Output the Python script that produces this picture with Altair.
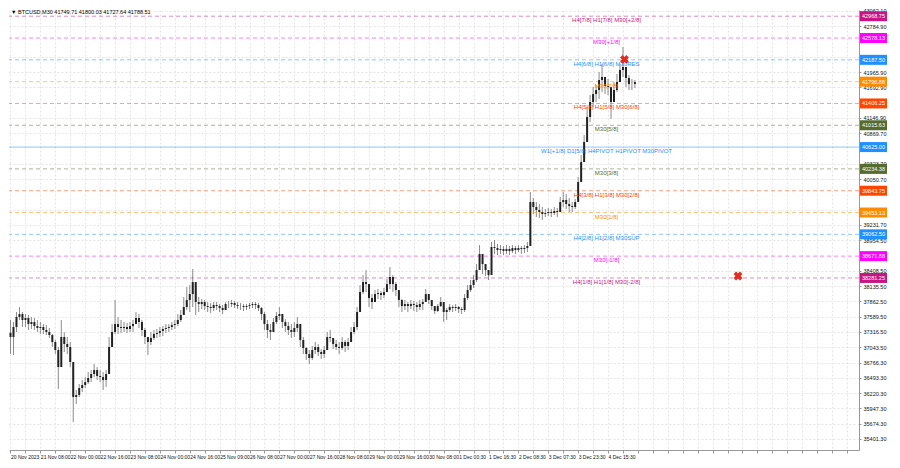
import json
import altair as alt
import pandas as pd

# ---------------- data ----------------
highs = [37528, 37492, 37671, 37761, 37671, 37635, 37618, 37582, 37564, 37528,
         37492, 37456, 37438, 37385, 37277, 37170, 37045, 37528, 37313, 37223,
         37134, 36686, 36274, 36381, 36453, 36507, 36597, 36632, 36740, 36686,
         36632, 36597, 36632, 37223, 37456, 37886, 37582, 37528, 37492, 37474,
         37492, 37528, 37671, 37635, 37528, 37385, 37223, 37313, 37349, 37367,
         37403, 37420, 37456, 37456, 37492, 37528, 37635, 37707, 37940, 38119,
         38154, 38441, 38154, 37940, 37904, 37886, 37850, 37832, 37850, 37850,
         37814, 37796, 37850, 37868, 37886, 37868, 37850, 37832, 37814, 37814,
         37832, 37850, 37850, 37832, 37761, 37671, 37528, 37456, 37564, 37671,
         37761, 37635, 37546, 37492, 37456, 37492, 37582, 37385, 37223, 37045,
         36991, 37063, 37134, 37098, 37009, 37063, 37313, 37349, 37206, 37170,
         37134, 37223, 37170, 37206, 37403, 37492, 37761, 38154, 38333, 38423,
         38119, 37993, 38065, 38083, 38047, 38101, 38262, 38477, 38333, 38208,
         38029, 37904, 37886, 37850, 37886, 37868, 37850, 37886, 37904, 38083,
         37993, 37886, 37761, 37814, 37940, 37796, 37743, 37814, 37796, 37814,
         37778, 37761, 37993, 38154, 38244, 38333, 38530, 38871, 38656, 38530,
         38423, 38925, 38960, 38889, 38871, 38853, 38871, 38853, 38871, 38853,
         38871, 38853, 38871, 38925, 39820, 39713, 39641, 39605, 39552, 39516,
         39534, 39516, 39552, 39534, 39731, 39820, 39784, 39713, 39641, 39695,
         40089, 40484, 40841, 41343, 41557, 41701, 41737, 41969, 42112, 41880,
         41844, 41701, 41790, 41934, 42112, 42417, 42005, 41916, 41844, 41826]
lows = [36919, 36901, 37313, 37528, 37403, 37403, 37349, 37367, 37349, 37313,
        37277, 37277, 37259, 37206, 37045, 36919, 36292, 36955, 36955, 36919,
        36686, 35701, 36023, 36149, 36238, 36310, 36381, 36417, 36507, 36453,
        36417, 36274, 36328, 36561, 37045, 37277, 37277, 37295, 37313, 37295,
        37313, 37313, 37456, 37385, 37241, 37098, 36901, 37080, 37170, 37206,
        37223, 37241, 37295, 37313, 37349, 37367, 37420, 37492, 37635, 37707,
        37671, 37761, 37618, 37671, 37725, 37707, 37671, 37653, 37689, 37707,
        37671, 37635, 37707, 37743, 37761, 37743, 37725, 37707, 37689, 37707,
        37725, 37743, 37725, 37689, 37528, 37349, 37206, 37170, 37313, 37456,
        37528, 37385, 37313, 37259, 37206, 37223, 37313, 37045, 36919, 36812,
        36740, 36812, 36919, 36883, 36830, 36847, 37098, 37134, 37009, 36991,
        36919, 36991, 36955, 36991, 37134, 37277, 37349, 37761, 37993, 38029,
        37761, 37725, 37850, 37904, 37886, 37922, 38029, 38083, 38029, 37957,
        37761, 37671, 37707, 37671, 37725, 37689, 37671, 37707, 37707, 37886,
        37814, 37707, 37635, 37671, 37761, 37492, 37528, 37671, 37671, 37689,
        37653, 37635, 37671, 37886, 38029, 38101, 38208, 38512, 38351, 38315,
        38244, 38620, 38710, 38692, 38710, 38692, 38710, 38692, 38728, 38710,
        38746, 38710, 38728, 38746, 38871, 39426, 39372, 39355, 39319, 39372,
        39391, 39372, 39408, 39372, 39462, 39552, 39516, 39462, 39462, 39516,
        39677, 39999, 40447, 40716, 41074, 41343, 41432, 41486, 41611, 41575,
        41557, 41127, 41432, 41611, 41790, 41880, 41701, 41647, 41647, 41682]
closes = [37223, 37403, 37582, 37635, 37528, 37564, 37456, 37492, 37420, 37385,
          37403, 37349, 37313, 37259, 37134, 36991, 36686, 37223, 37098, 37045,
          36776, 36149, 36185, 36310, 36364, 36417, 36489, 36561, 36632, 36525,
          36507, 36453, 36561, 37045, 37313, 37456, 37403, 37385, 37403, 37367,
          37420, 37456, 37564, 37492, 37349, 37223, 37134, 37206, 37277, 37295,
          37331, 37367, 37385, 37403, 37438, 37456, 37528, 37618, 37761, 37886,
          37993, 38208, 37850, 37814, 37850, 37778, 37761, 37743, 37796, 37778,
          37743, 37707, 37814, 37814, 37832, 37796, 37778, 37778, 37761, 37778,
          37796, 37814, 37796, 37743, 37635, 37456, 37349, 37313, 37492, 37600,
          37635, 37492, 37420, 37349, 37313, 37385, 37456, 37170, 37027, 36919,
          36847, 36991, 37045, 36955, 36919, 36991, 37223, 37206, 37098, 37045,
          37027, 37134, 37063, 37134, 37313, 37403, 37671, 38029, 38208, 38172,
          37922, 37850, 37993, 38011, 37975, 38029, 38172, 38298, 38172, 38065,
          37886, 37778, 37814, 37778, 37814, 37796, 37761, 37814, 37850, 37993,
          37886, 37778, 37689, 37778, 37850, 37671, 37707, 37761, 37743, 37761,
          37725, 37707, 37922, 38065, 38154, 38244, 38423, 38710, 38530, 38423,
          38333, 38835, 38817, 38781, 38799, 38763, 38799, 38763, 38817, 38781,
          38817, 38799, 38817, 38853, 39641, 39552, 39498, 39462, 39426, 39444,
          39462, 39444, 39480, 39462, 39641, 39677, 39605, 39569, 39552, 39641,
          39999, 40357, 40716, 41164, 41432, 41575, 41647, 41826, 41880, 41719,
          41701, 41432, 41647, 41790, 42005, 42059, 41862, 41754, 41754, 41788.51]
first_open = 37300

header_symbol = "BTCUSD,M30"
header_ohlc = [41749.71, 41800.03, 41727.64, 41788.51]

time_labels = ["20 Nov 2023", "21 Nov 08:00", "22 Nov 00:00", "22 Nov 16:00",
               "23 Nov 08:00", "24 Nov 00:00", "24 Nov 16:00", "25 Nov 09:00",
               "26 Nov 08:00", "27 Nov 00:00", "27 Nov 16:00", "28 Nov 08:00",
               "29 Nov 00:00", "29 Nov 16:00", "30 Nov 08:00", "1 Dec 00:30",
               "1 Dec 16:30", "2 Dec 08:30", "3 Dec 07:30", "3 Dec 23:30",
               "4 Dec 15:30"]

# price-scale labels that are not hidden behind the level tags
price_ticks = [43062.10, 42784.90, 42238.90, 41965.90, 41692.90,
               41146.90, 40869.70, 40323.70, 40050.70,
               39504.70, 39231.70, 38954.50, 38408.50,
               38135.50, 37862.50, 37589.50, 37316.50, 37043.50, 36766.30,
               36493.30, 36220.30, 35947.30, 35674.30, 35401.30]

level_prices = [42968.75, 42578.13, 42187.50, 41796.88, 41406.25, 41015.63,
                40625.00, 40234.38, 39843.75, 39453.13, 39062.50, 38671.88,
                38281.25]
level_texts = ["H4[7/8] H1[7/8] M30[+2/8]", "M30[+1/8]",
               "H4[6/8] H1[6/8] M30RES", "M30[7/8]",
               "H4[5/8] H1[5/8] M30[6/8]", "M30[5/8]",
               "W1[+1/8] D1[5/8] H4PIVOT H1PIVOT M30PIVOT", "M30[3/8]",
               "H4[3/8] H1[3/8] M30[2/8]", "M30[1/8]",
               "H4[2/8] H1[2/8] M30SUP", "M30[-1/8]",
               "H4[1/8] H1[1/8] M30[-2/8]"]
level_colors = ["#C71585", "#FF00FF", "#1E90FF", "#FF8C00", "#FF4500",
                "#556B2F", "#1E90FF", "#556B2F", "#FF4500", "#FF8C00",
                "#1E90FF", "#FF00FF", "#C71585"]
level_solid = [False, False, False, False, False, False, True, False, False,
               False, False, False, False]
label_slot = 199.5

marker_slots = [205.5, 243.5]
marker_prices = [42195, 38316]

# ---------------- chart ----------------
W, H = 850, 440
FONT = "Liberation Sans"

n = len(closes)
bars = pd.DataFrame({
    "i": list(range(n)),
    "high": highs,
    "low": lows,
    "close": closes,
    "open": [first_open] + closes[:-1],
})
levels = pd.DataFrame({
    "price": level_prices,
    "label": level_texts,
    "color": level_colors,
    "solid": level_solid,
})
levels["plabel"] = [f"{p:.2f}" for p in level_prices]
markers = pd.DataFrame({"i": marker_slots, "price": marker_prices})

xscale = alt.Scale(domain=[-0.5, 284], nice=False, zero=False)
yscale = alt.Scale(domain=[35200, 43080], nice=False, zero=False)

label_arr = json.dumps(time_labels).replace('"', "'")
x_axis = alt.Axis(
    values=list(range(0, 285, 5)),
    labelExpr=f"datum.value % 10 == 0 && datum.value <= 200 ? {label_arr}[datum.value / 10] : ''",
    title=None, grid=True, gridColor="#e4e4e4", gridDash=[2, 2],
    labelFontSize=5, labelFont=FONT, labelColor="#111", labelAlign="left",
    labelPadding=1, tickSize=3, tickColor="#999", domainColor="#999",
    labelOverlap=False, labelFlush=False,
)
y_axis = alt.Axis(
    orient="right", values=price_ticks, format=".2f", title=None,
    grid=True, gridColor="#e4e4e4", gridDash=[2, 2],
    labelFontSize=5.5, labelFont=FONT, labelColor="#111", labelAlign="left",
    labelPadding=2, tickSize=2, tickColor="#999", domainColor="#999",
    labelOverlap=False, labelFlush=False,
)


def X(field):
    return alt.X(field, scale=xscale, axis=x_axis)


def Y(field):
    return alt.Y(field, scale=yscale, axis=y_axis)


base_bars = alt.Chart(bars)

wicks = base_bars.mark_rule(color="#8a8a8a", strokeWidth=1).encode(
    x=X("i:Q"), y=Y("low:Q"), y2="high:Q",
)
bodies = base_bars.mark_rule(color="#222222", strokeWidth=2).encode(
    x=X("i:Q"), y=Y("open:Q"), y2="close:Q",
)

lev = alt.Chart(levels)
dashed_lines = lev.transform_filter("!datum.solid").mark_rule(
    strokeWidth=1, strokeDash=[4, 3], opacity=0.5
).encode(
    y=Y("price:Q"),
    color=alt.Color("color:N", scale=None),
)
solid_lines = lev.transform_filter("datum.solid").mark_rule(
    strokeWidth=1, opacity=0.5
).encode(
    y=Y("price:Q"),
    color=alt.Color("color:N", scale=None),
)
level_text = lev.mark_text(
    align="center", baseline="top", dy=1, fontSize=6, font=FONT
).encode(
    x=alt.X(datum=label_slot, scale=xscale, axis=x_axis),
    y=Y("price:Q"),
    text="label:N",
    color=alt.Color("color:N", scale=None),
)
boxes = lev.mark_point(
    shape="M-1,-0.37H1V0.37H-1Z", filled=True, size=729, opacity=1, strokeWidth=0
).encode(
    x=alt.value(W + 14.5),
    y=Y("price:Q"),
    color=alt.Color("color:N", scale=None),
)
box_text = lev.mark_text(
    align="left", baseline="middle", fontSize=5.5, font=FONT, color="white"
).encode(
    x=alt.value(W + 3),
    y=Y("price:Q"),
    text="plabel:N",
)

xmarks = alt.Chart(markers).mark_point(
    shape="cross", angle=45, filled=True, color="#E52B20", size=80, opacity=1
).encode(
    x=X("i:Q"),
    y=Y("price:Q"),
)

header_text = "\u25BC  " + header_symbol + "  " + " ".join(f"{v:.2f}" for v in header_ohlc)
header = alt.Chart(pd.DataFrame({"t": [header_text]})).mark_text(
    align="left", baseline="middle", fontSize=5.5, font=FONT, color="#000"
).encode(x=alt.value(2), y=alt.value(2), text="t:N")

chart = alt.layer(
    wicks, dashed_lines, solid_lines, bodies, level_text, xmarks,
    boxes, box_text, header
).properties(
    width=W, height=H, padding=0, background="white"
).configure_view(stroke=None)

chart.save("out.html", embed_options={"renderer": "svg", "actions": False})
